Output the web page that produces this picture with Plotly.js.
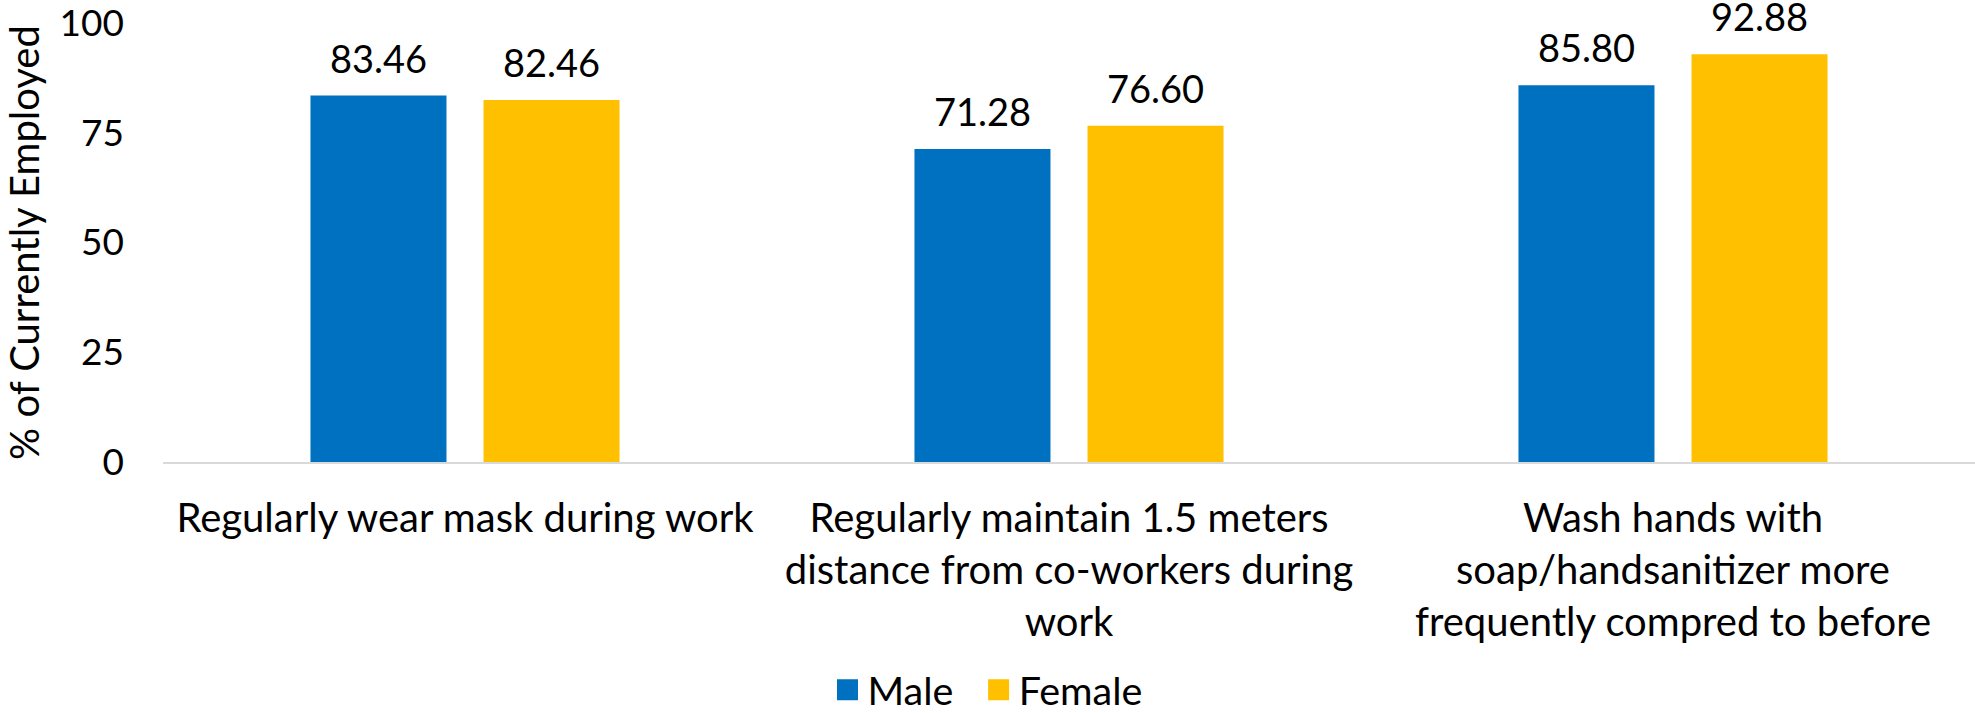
<!DOCTYPE html>
<html>
<head>
<meta charset="utf-8">
<script src="https://cdn.plot.ly/plotly-3.0.1.min.js"></script>
<style>
  html, body { margin: 0; padding: 0; background: #ffffff; }
  #chart { width: 1975px; height: 713px; }
</style>
</head>
<body>
<div id="chart"></div>
<script>
const categories = [
  "Regularly wear mask during work",
  "Regularly maintain 1.5 meters distance from co-workers during work",
  "Wash hands with soap/handsanitizer more frequently compred to before"
];
const tickLabels = [
  "Regularly wear mask during work",
  "Regularly maintain 1.5 meters<br>distance from co-workers during<br>work",
  "Wash hands with<br>soap/handsanitizer more<br>frequently compred to before"
];
const seriesNames = ["Male", "Female"];
const maleValues = [83.46, 71.28, 85.80];
const femaleValues = [82.46, 76.60, 92.88];
const yTicks = [0, 25, 50, 75, 100];
const yTitle = "% of Currently Employed";

const FONT = "Lato, 'Open Sans', sans-serif";
const colors = ["#0070C0", "#FFC000"];
const series = [maleValues, femaleValues];

const traces = series.map((vals, i) => ({
  type: "bar",
  name: seriesNames[i],
  x: categories,
  y: vals,
  marker: { color: colors[i] },
  showlegend: false,
  legendgroup: seriesNames[i],
  hoverinfo: "x+y+name"
}));

// legend proxies (larger square symbols than default bar legend glyphs)
seriesNames.forEach((n, i) => {
  traces.push({
    type: "scatter",
    mode: "markers",
    name: i < seriesNames.length - 1 ? n + "\u00a0\u00a0" : n,
    x: [null],
    y: [null],
    legendgroup: n,
    marker: { symbol: "square", size: 16, color: colors[i], line: { color: colors[i], width: 5 } },
    showlegend: true
  });
});

const bargap = 0.427;
const plotW = 1975 - 163;
const slot = (plotW / categories.length) * (1 - bargap) / 2;

const annotations = [];
series.forEach((vals, s) => {
  vals.forEach((v, i) => {
    annotations.push({
      x: categories[i],
      y: v,
      xref: "x",
      yref: "y",
      text: v.toFixed(2),
      showarrow: false,
      xanchor: "center",
      yanchor: "bottom",
      borderpad: 0,
      xshift: (s === 0 ? -1 : 1) * slot / 2,
      yshift: 14,
      font: { family: FONT, size: 38, color: "#000000" }
    });
  });
});

const layout = {
  width: 1975,
  height: 713,
  margin: { l: 163, r: 0, t: 23, b: 251 },
  paper_bgcolor: "#ffffff",
  plot_bgcolor: "#ffffff",
  font: { family: FONT, size: 40, color: "#000000" },
  barmode: "group",
  bargap: bargap,
  bargroupgap: 0.214,
  showlegend: true,
  legend: {
    orientation: "h",
    xref: "container",
    yref: "container",
    x: 0.5,
    xanchor: "center",
    y: 0.032,
    yanchor: "middle",
    font: { family: FONT, size: 39.5, color: "#000000" },
    traceorder: "normal"
  },
  xaxis: {
    type: "category",
    tickvals: categories,
    ticktext: tickLabels,
    showline: true,
    linecolor: "#d9d9d9",
    linewidth: 2,
    ticks: "",
    showgrid: false,
    zeroline: false,
    ticklabelstandoff: 20,
    tickfont: { family: FONT, size: 40, color: "#000000" },
    fixedrange: true
  },
  yaxis: {
    range: [0, 100],
    tickvals: yTicks,
    ticktext: yTicks.map(String),
    showgrid: false,
    zeroline: false,
    showline: false,
    ticks: "",
    ticklabelstandoff: 38,
    ticklabeloverflow: "allow",
    tickfont: { family: FONT, size: 37, color: "#000000" },
    title: { text: yTitle, font: { family: FONT, size: 40, color: "#000000" }, standoff: 8 },
    fixedrange: true
  },
  annotations: annotations
};

Plotly.newPlot("chart", traces, layout, { displayModeBar: false, staticPlot: true });
</script>
</body>
</html>
